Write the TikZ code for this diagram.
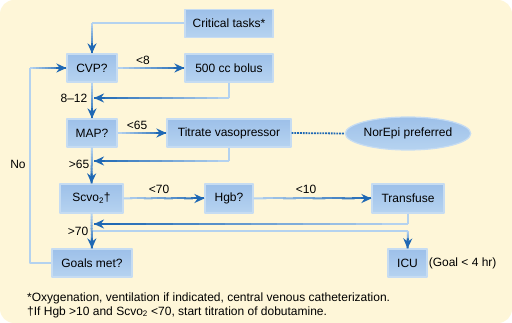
\documentclass[tikz,border=0pt]{standalone}
\usepackage{fontspec}
\setmainfont{Liberation Sans}
\usetikzlibrary{shapes.geometric,arrows.meta,calc}

\definecolor{cream}{HTML}{FEF6D8}
\definecolor{boxtop}{HTML}{9DC0E9}
\definecolor{boxbottom}{HTML}{B6D3F0}
\definecolor{boxedge}{HTML}{C6DCF2}
\definecolor{flowlight}{HTML}{B4D2EF}
\definecolor{flowdark}{HTML}{1F68B4}

\tikzset{
  stepbox/.style={rectangle, draw=boxedge, line width=1.2pt, top color=boxtop,
    bottom color=boxbottom, inner sep=0pt, minimum height=28pt,
    font=\fontsize{12}{14}\selectfont},
  flow/.style={draw=flowlight, line width=2pt},
  flowtip/.style={draw=flowdark, fill=flowdark, line width=2pt, -{Stealth[length=10pt,width=9pt]}},
  lbl/.style={inner sep=1pt, font=\fontsize{12}{14}\selectfont},
  note/.style={anchor=west, inner sep=0pt, font=\fontsize{12}{14}\selectfont}
}

% segment that darkens from light to dark, ending in an arrow tip
\newcommand{\fadeline}[2]{%
  \foreach \k in {0,...,11}{%
    \pgfmathsetmacro{\mixval}{int(100*\k/11)}%
    \draw[draw=flowdark!\mixval!flowlight, line width=2pt]
      ($(#1)!{\k/12}!(#2)$) -- ($(#1)!{min(1,(\k+1.3)/12)}!(#2)$);
  }
  \draw[flowtip] ($(#2)!10pt!(#1)$) -- (#2);
}

\begin{document}
\begin{tikzpicture}[x=1pt, y=-1pt, line join=round]
  % Background panel
  \useasboundingbox (0,0) rectangle (512,323);
  \fill[cream, rounded corners=14pt] (0,0) rectangle (512,323);

  % Steps of the protocol
  \node[stepbox, minimum width=88pt] (crit) at (229,23.5) {Critical tasks*};
  \node[stepbox, minimum width=50pt] (cvp) at (92,68) {CVP?};
  \node[stepbox, minimum width=88pt] (bolus) at (229,68) {500 cc bolus};
  \node[stepbox, minimum width=50pt] (map) at (92,133) {MAP?};
  \node[stepbox, minimum width=124pt] (titr) at (229,133) {Titrate vasopressor};
  \node[ellipse, draw=boxedge, line width=1.2pt, top color=boxtop, bottom color=boxbottom,
    minimum width=109pt, minimum height=33pt, inner sep=0pt,
    font=\fontsize{12}{14}\selectfont] (norepi) at (408,133.5) {NorEpi preferred};
  \node[stepbox, minimum width=63pt, minimum height=29pt] (scvo) at (91.5,198.5) {Scvo\textsubscript{2}†};
  \node[stepbox, minimum width=48pt, minimum height=29pt] (hgb) at (229,198.5) {Hgb?};
  \node[stepbox, minimum width=72pt, minimum height=29pt] (transf) at (408,198.5) {Transfuse};
  \node[stepbox, minimum width=80pt] (goals) at (92,263) {Goals met?};
  \node[stepbox, minimum width=39pt] (icu) at (407.5,263) {ICU};
  \node[lbl, anchor=west] (goal) at (icu.east) {(Goal < 4 hr)};

  % Joints and corners of the connectors
  \coordinate (j1) at (94,98);
  \coordinate (j2) at (94,161);
  \coordinate (j3) at (94,224);
  \coordinate (j4) at (92,231);
  \coordinate (j5) at (408,231);
  \coordinate (loop) at (30,68);
  \coordinate (k0) at (cvp.north |- crit.west);
  \coordinate (k1) at (bolus.south |- j1);
  \coordinate (k2) at (titr.south |- j2);
  \coordinate (k3) at (transf.south |- j3);

  % Light parts before the last turn
  \draw[flow] (crit.west) -- (k0);
  \draw[flow] (bolus.south) -- (k1);
  \draw[flow] (titr.south) -- (k2);
  \draw[flow] (transf.south) -- (k3);
  \draw[flow] (j4) -- (j5);
  \draw[flow] (goals.west) -| (loop);

  % Darkening ends with arrow tips
  \fadeline{k0}{cvp.north}
  \fadeline{cvp.east}{bolus.west}
  \fadeline{k1}{j1}
  \fadeline{cvp.south}{map.north}
  \fadeline{map.east}{titr.west}
  \fadeline{k2}{j2}
  \fadeline{map.south}{scvo.north}
  \fadeline{scvo.east}{hgb.west}
  \fadeline{hgb.east}{transf.west}
  \fadeline{k3}{j3}
  \fadeline{scvo.south}{goals.north}
  \fadeline{j5}{icu.north}
  \fadeline{loop}{cvp.west}

  % Dotted link to the preferred drug
  \draw[flowdark, line width=1.8pt, densely dotted] (titr.east) -- (norepi.west);

  % Branch labels
  \node[lbl] (l8) at (143,60) {<8};
  \node[lbl] (l812) at (74,98) {8–12};
  \node[lbl] (l65) at (137,125) {<65};
  \node[lbl] (g65) at (79,164) {>65};
  \node[lbl] (l70) at (159,189) {<70};
  \node[lbl] (l10) at (306,189) {<10};
  \node[lbl] (g70) at (78,231) {>70};
  \node[lbl] (no) at (18,164) {No};

  % Footnotes
  \node[note] (fn1) at (27,298) {*Oxygenation, ventilation if indicated, central venous catheterization.};
  \node[note] (fn2) at (27,312) {†If Hgb >10 and Scvo\textsubscript{2} <70, start titration of dobutamine.};
\end{tikzpicture}
\end{document}
